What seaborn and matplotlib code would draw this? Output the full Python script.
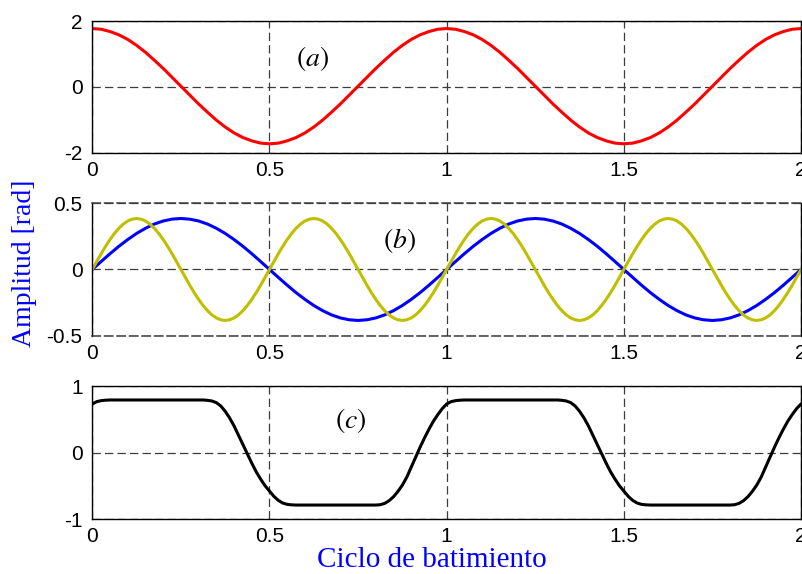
import numpy as np
import matplotlib
matplotlib.use("Agg")
import matplotlib.pyplot as plt
import seaborn as sns

# ---- data: beat-cycle phase curves sampled over two cycles ----
x_cycle = np.linspace(0, 2, 81)       # step 0.025
x_fine = np.linspace(0, 2, 161)       # step 0.0125

# (a) total phase
phase_a = [
    1.77, 1.75, 1.68, 1.58, 1.44, 1.26, 1.05, 0.81, 0.56, 0.29,
    0.02, -0.25, -0.52, -0.77, -1.01, -1.22, -1.40, -1.54, -1.64, -1.71,
    -1.73, -1.71, -1.64, -1.54, -1.40, -1.22, -1.01, -0.77, -0.52, -0.25,
    0.02, 0.29, 0.56, 0.81, 1.05, 1.26, 1.44, 1.58, 1.68, 1.75,
    1.77, 1.75, 1.68, 1.58, 1.44, 1.26, 1.05, 0.81, 0.56, 0.29,
    0.02, -0.25, -0.52, -0.77, -1.01, -1.22, -1.40, -1.54, -1.64, -1.71,
    -1.73, -1.71, -1.64, -1.54, -1.40, -1.22, -1.01, -0.77, -0.52, -0.25,
    0.02, 0.29, 0.56, 0.81, 1.05, 1.26, 1.44, 1.58, 1.68, 1.75,
    1.77,
]

# (b) fundamental component (blue)
phase_b1 = [
    0.000, 0.060, 0.119, 0.175, 0.226, 0.272, 0.311, 0.343, 0.366, 0.380,
    0.385, 0.380, 0.366, 0.343, 0.311, 0.272, 0.226, 0.175, 0.119, 0.060,
    0.000, -0.060, -0.119, -0.175, -0.226, -0.272, -0.311, -0.343, -0.366, -0.380,
    -0.385, -0.380, -0.366, -0.343, -0.311, -0.272, -0.226, -0.175, -0.119, -0.060,
    0.000, 0.060, 0.119, 0.175, 0.226, 0.272, 0.311, 0.343, 0.366, 0.380,
    0.385, 0.380, 0.366, 0.343, 0.311, 0.272, 0.226, 0.175, 0.119, 0.060,
    0.000, -0.060, -0.119, -0.175, -0.226, -0.272, -0.311, -0.343, -0.366, -0.380,
    -0.385, -0.380, -0.366, -0.343, -0.311, -0.272, -0.226, -0.175, -0.119, -0.060,
    0.000,
]

# (b) second harmonic component (yellow), sampled on the fine grid
phase_b2 = [
    0.000, 0.060, 0.119, 0.175, 0.226, 0.272, 0.311, 0.343, 0.366, 0.380,
    0.385, 0.380, 0.366, 0.343, 0.311, 0.272, 0.226, 0.175, 0.119, 0.060,
    0.000, -0.060, -0.119, -0.175, -0.226, -0.272, -0.311, -0.343, -0.366, -0.380,
    -0.385, -0.380, -0.366, -0.343, -0.311, -0.272, -0.226, -0.175, -0.119, -0.060,
    0.000, 0.060, 0.119, 0.175, 0.226, 0.272, 0.311, 0.343, 0.366, 0.380,
    0.385, 0.380, 0.366, 0.343, 0.311, 0.272, 0.226, 0.175, 0.119, 0.060,
    0.000, -0.060, -0.119, -0.175, -0.226, -0.272, -0.311, -0.343, -0.366, -0.380,
    -0.385, -0.380, -0.366, -0.343, -0.311, -0.272, -0.226, -0.175, -0.119, -0.060,
    0.000, 0.060, 0.119, 0.175, 0.226, 0.272, 0.311, 0.343, 0.366, 0.380,
    0.385, 0.380, 0.366, 0.343, 0.311, 0.272, 0.226, 0.175, 0.119, 0.060,
    0.000, -0.060, -0.119, -0.175, -0.226, -0.272, -0.311, -0.343, -0.366, -0.380,
    -0.385, -0.380, -0.366, -0.343, -0.311, -0.272, -0.226, -0.175, -0.119, -0.060,
    0.000, 0.060, 0.119, 0.175, 0.226, 0.272, 0.311, 0.343, 0.366, 0.380,
    0.385, 0.380, 0.366, 0.343, 0.311, 0.272, 0.226, 0.175, 0.119, 0.060,
    0.000, -0.060, -0.119, -0.175, -0.226, -0.272, -0.311, -0.343, -0.366, -0.380,
    -0.385, -0.380, -0.366, -0.343, -0.311, -0.272, -0.226, -0.175, -0.119, -0.060,
    0.000,
]

# (c) saturated phase, sampled on the fine grid
phase_c = [
    0.73, 0.765, 0.78, 0.787, 0.79, 0.79, 0.79, 0.79, 0.79, 0.79,
    0.79, 0.79, 0.79, 0.79, 0.79, 0.79, 0.79, 0.79, 0.79, 0.79,
    0.79, 0.79, 0.79, 0.79, 0.79, 0.79, 0.785, 0.775, 0.75, 0.70,
    0.62, 0.52, 0.40, 0.26, 0.12, -0.02, -0.16, -0.29, -0.40, -0.50,
    -0.58, -0.66, -0.72, -0.76, -0.78, -0.787, -0.79, -0.79, -0.79, -0.79,
    -0.79, -0.79, -0.79, -0.79, -0.79, -0.79, -0.79, -0.79, -0.79, -0.79,
    -0.79, -0.79, -0.79, -0.79, -0.79, -0.785, -0.765, -0.725, -0.665, -0.585,
    -0.49, -0.37, -0.22, -0.07, 0.08, 0.22, 0.35, 0.47, 0.57, 0.66,
    0.73, 0.765, 0.78, 0.787, 0.79, 0.79, 0.79, 0.79, 0.79, 0.79,
    0.79, 0.79, 0.79, 0.79, 0.79, 0.79, 0.79, 0.79, 0.79, 0.79,
    0.79, 0.79, 0.79, 0.79, 0.79, 0.79, 0.785, 0.775, 0.75, 0.70,
    0.62, 0.52, 0.40, 0.26, 0.12, -0.02, -0.16, -0.29, -0.40, -0.50,
    -0.58, -0.66, -0.72, -0.76, -0.78, -0.787, -0.79, -0.79, -0.79, -0.79,
    -0.79, -0.79, -0.79, -0.79, -0.79, -0.79, -0.79, -0.79, -0.79, -0.79,
    -0.79, -0.79, -0.79, -0.79, -0.79, -0.785, -0.765, -0.725, -0.665, -0.585,
    -0.49, -0.37, -0.22, -0.07, 0.08, 0.22, 0.35, 0.47, 0.57, 0.66,
    0.73,
]

x_ticks = [0, 0.5, 1, 1.5, 2]
x_ticklabels = ["0", "0.5", "1", "1.5", "2"]
y_ticks = [[-2, 0, 2], [-0.5, 0, 0.5], [-1, 0, 1]]
y_ticklabels = [["-2", "0", "2"], ["-0.5", "0", "0.5"], ["-1", "0", "1"]]
panel_tags = [r"$(a)$", r"$(b)$", r"$(c)$"]

# ---- style ----
sns.set_theme(style="white")
plt.rcParams["font.family"] = ["Liberation Sans", "DejaVu Sans"]
plt.rcParams["mathtext.fontset"] = "stix"
plt.rcParams["lines.scale_dashes"] = False

fig = plt.figure(figsize=(8.02, 5.74), dpi=100)
positions = [
    [0.1151, 0.7340, 0.8837, 0.2294],
    [0.1151, 0.4152, 0.8837, 0.2307],
    [0.1151, 0.0958, 0.8837, 0.2317],
]
axes = [fig.add_axes(p) for p in positions]

lw = 2.2
sns.lineplot(x=x_cycle, y=phase_a, ax=axes[0], color="#ff0000", linewidth=lw)
sns.lineplot(x=x_cycle, y=phase_b1, ax=axes[1], color="#0000ff", linewidth=lw)
sns.lineplot(x=x_fine, y=phase_b2, ax=axes[1], color="#bfbf00", linewidth=lw)
sns.lineplot(x=x_fine, y=phase_c, ax=axes[2], color="#000000", linewidth=lw)

tag_pos = [(0.311, 0.719), (0.434, 0.715), (0.364, 0.744)]
grid_dash = (0, (6, 3))

for i, ax in enumerate(axes):
    ax.set_xlim(0, 2)
    ax.set_ylim(y_ticks[i][0], y_ticks[i][-1])
    ax.set_xticks(x_ticks)
    ax.set_xticklabels(x_ticklabels)
    ax.set_yticks(y_ticks[i])
    ax.set_yticklabels(y_ticklabels[i])
    ax.set_xlabel("")
    ax.set_ylabel("")
    ax.grid(True, color="#3c3c3c", linestyle=grid_dash, linewidth=0.9)
    ax.tick_params(direction="in", length=4, width=0.8, labelsize=15,
                   colors="black")
    ax.tick_params(axis="x", pad=6)
    ax.tick_params(axis="y", pad=7)
    for s in ax.spines.values():
        s.set_color("black")
        s.set_linewidth(1.0)
        s.set_visible(True)
    tx, ty = tag_pos[i]
    ax.text(tx, ty, panel_tags[i], transform=ax.transAxes, ha="center",
            va="center", fontsize=20, color="black")

# middle panel: top and bottom edges drawn as dashed grid-style lines
for side in ("top", "bottom"):
    sp = axes[1].spines[side]
    sp.set_linestyle(grid_dash)
    sp.set_color("#3c3c3c")
    sp.set_linewidth(1.1)

fig.text(25 / 802, 1 - 263 / 574, "Amplitud [rad]", rotation=90,
         ha="center", va="center", color="#0000ff",
         family="Liberation Serif", fontsize=20)
fig.text(432 / 802, 1 - 567 / 574, "Ciclo de batimiento",
         ha="center", va="baseline", color="#0000ff",
         family="Liberation Serif", fontsize=21)

fig.savefig("out.png", dpi=100)
